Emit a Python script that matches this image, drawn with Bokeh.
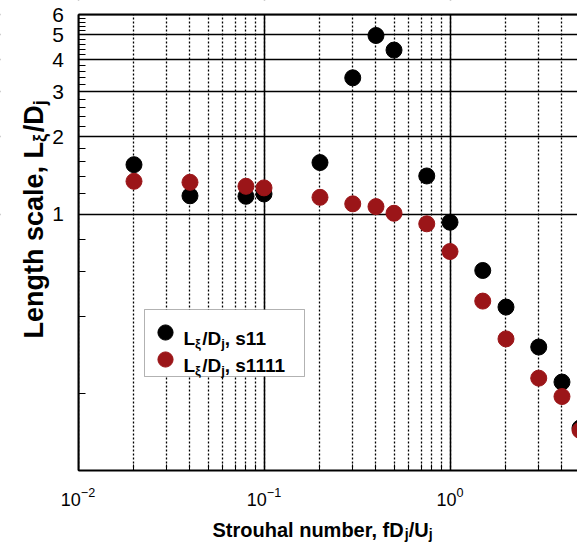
import math
from bokeh.plotting import figure
from bokeh.models import (FixedTicker, BasicTickFormatter, Label, Legend,
                          LegendItem, LinearAxis, BoxAnnotation)
from bokeh.embed import file_html
from bokeh.resources import INLINE

# ---------------- data ----------------
strouhal = [0.02, 0.04, 0.08, 0.1, 0.2, 0.3, 0.4, 0.5, 0.75, 1.0, 1.5, 2.0, 3.0, 4.0, 5.0]
s11 = [1.56, 1.18, 1.175, 1.20, 1.59, 3.40, 4.97, 4.36, 1.41, 0.931, 0.604, 0.435,
       0.304, 0.222, 0.147]
s1111 = [1.344, 1.332, 1.285, 1.267, 1.164, 1.098, 1.071, 1.009, 0.918, 0.716, 0.459,
         0.327, 0.230, 0.195, 0.144]
y_major_ticks = [1, 2, 3, 4, 5, 6]
y_minor_ticks = [0.2, 0.4, 0.6, 0.8, 1.2, 1.4, 1.6, 1.8, 2.2, 2.4, 2.6, 2.8,
                 3.2, 3.4, 3.6, 3.8, 4.2, 4.4, 4.6, 4.8, 5.2, 5.4, 5.6, 5.8]
X_MIN, Y_MIN, Y_MAX = 0.01, 0.1, 6.0

RED = "#9b1518"
FONT = "Liberation Sans"
W, H = 577, 543
# plot-area placement inside the canvas (pixels)
PL, PT, PB = 77.5, 14.0, 470.5
XDEC = 186.0     # pixels per decade on x
YDEC = 256.7     # pixels per decade on y

x0 = X_MIN * 10 ** (-PL / XDEC)
x1 = X_MIN * 10 ** ((W - PL) / XDEC)
y0 = Y_MIN * 10 ** (-(H - PB) / YDEC)
y1 = Y_MAX * 10 ** (PT / YDEC)

p = figure(width=W, height=H, x_axis_type="log", y_axis_type="log",
           x_range=(x0, x1), y_range=(y0, y1),
           output_backend="svg", toolbar_location=None,
           min_border_left=0, min_border_right=0, min_border_top=0,
           min_border_bottom=0, background_fill_color="white",
           border_fill_color="white")
p.outline_line_color = None

xa = p.xaxis[0]
xa.fixed_location = Y_MIN
xa.bounds = (X_MIN, x1)
xa.axis_line_width = 2
xa.axis_line_color = "black"
xa.major_tick_in = 10
xa.major_tick_out = 0
xa.minor_tick_in = 6
xa.minor_tick_out = 0
xa.major_tick_line_color = "black"
xa.minor_tick_line_color = "black"
xa.major_label_text_font = FONT
xa.major_label_text_font_size = "18px"
xa.major_label_text_color = "black"
xa.major_label_standoff = 16

ya = p.yaxis[0]
ya.fixed_location = X_MIN
ya.bounds = (Y_MIN, Y_MAX)
ya.ticker = FixedTicker(ticks=y_major_ticks, minor_ticks=y_minor_ticks)
ya.formatter = BasicTickFormatter()
ya.axis_line_width = 2
ya.axis_line_color = "black"
ya.major_tick_in = 12
ya.major_tick_out = 0
ya.minor_tick_in = 7
ya.minor_tick_out = 0
ya.major_tick_line_color = "black"
ya.minor_tick_line_color = "black"
ya.major_label_text_font = FONT
ya.major_label_text_font_size = "21px"
ya.major_label_text_color = "black"
ya.major_label_standoff = 14

top = LinearAxis(ticker=FixedTicker(ticks=[]), major_tick_in=0, major_tick_out=0,
                 minor_tick_in=0, minor_tick_out=0, axis_line_width=2,
                 axis_line_color="black", major_label_text_font_size="0px",
                 fixed_location=Y_MAX, bounds=(X_MIN, x1))
p.add_layout(top, "above")

p.xgrid.grid_line_color = "black"
p.xgrid.grid_line_width = 1.5
p.xgrid.minor_grid_line_color = "black"
p.xgrid.minor_grid_line_width = 1.3
p.xgrid.minor_grid_line_dash = "2 2"
p.ygrid.grid_line_color = "black"
p.ygrid.grid_line_width = 1.5

# white masks outside the plotting area (cover grid lines only)
for kw in (dict(top=Y_MIN), dict(bottom=Y_MAX), dict(right=X_MIN)):
    p.add_layout(BoxAnnotation(fill_color="white", fill_alpha=1, line_alpha=0,
                               level="underlay", **kw))

r11 = p.scatter(strouhal, s11, size=16, marker="circle", fill_color="black",
                line_color="black")
r1111 = p.scatter(strouhal, s1111, size=16, marker="circle", fill_color=RED,
                  line_color=RED)

# legend frame
p.add_layout(BoxAnnotation(left=144, right=304, top=H - 309, bottom=H - 376,
                           left_units="screen", right_units="screen",
                           top_units="screen", bottom_units="screen",
                           fill_color="white", fill_alpha=1, line_color="black",
                           line_width=1, level="annotation"))
# legend markers (one legend per entry so that the rows sit close together)
for r, cy in ((r11, 332), (r1111, 359)):
    p.add_layout(Legend(items=[LegendItem(label=" ", renderers=[r])],
                        location=(146, H - cy - 19), glyph_width=38, glyph_height=38,
                        padding=0, margin=0, label_standoff=0, label_width=0,
                        border_line_alpha=0, background_fill_alpha=0,
                        label_text_font_size="1px"))

# approximate Arial-Bold advance widths (em/1000)
AW = {' ': 278, ',': 278, '/': 278, 'D': 722, 'L': 611, 'U': 722, 'S': 667,
      'a': 556, 'b': 611, 'c': 556, 'e': 556, 'f': 333, 'g': 611, 'h': 611,
      'j': 278, 'l': 278, 'm': 889, 'n': 611, 'o': 611, 'r': 389, 's': 556,
      't': 333, 'u': 611, '1': 556, 'ξ': 540}


def tw(text, size):
    return sum(AW.get(c, 600) for c in text) * size / 1000.0


def lab(text, cx, cy, size, angle=0.0):
    p.add_layout(Label(x=cx, y=H - cy, x_units="screen", y_units="screen",
                       text=text, text_font=FONT, text_font_size=f"{size}px",
                       text_font_style="bold", text_color="black",
                       text_baseline="alphabetic", text_align="left", angle=angle,
                       level="overlay"))


def rich_h(parts, cx, cy, size, sub_size, sub_drop):
    x = cx
    for t, is_sub in parts:
        s = sub_size if is_sub else size
        lab(t, x, cy + (sub_drop if is_sub else 0), s)
        x += tw(t, s)


def rich_v(parts, cx, cy, size, sub_size, sub_drop):
    y = cy
    for t, is_sub in parts:
        s = sub_size if is_sub else size
        lab(t, cx + (sub_drop if is_sub else 0), y, s, angle=math.pi / 2)
        y -= tw(t, s)


# x-axis title
rich_h([("Strouhal number, fD", False), ("j", True), ("/U", False), ("j", True)],
       212, 529, 20, 14, 4)
# y-axis title
rich_v([("Length scale, L", False), ("ξ", True), ("/D", False), ("j", True)],
       33, 338, 27, 18, 6)
# legend texts
rich_h([("L", False), ("ξ", True), ("/D", False), ("j", True), (", s11", False)],
       183, 338, 19, 13, 5)
rich_h([("L", False), ("ξ", True), ("/D", False), ("j", True), (", s1111", False)],
       183, 364.5, 19, 13, 5)

open("out.html", "w").write(file_html(p, INLINE))
